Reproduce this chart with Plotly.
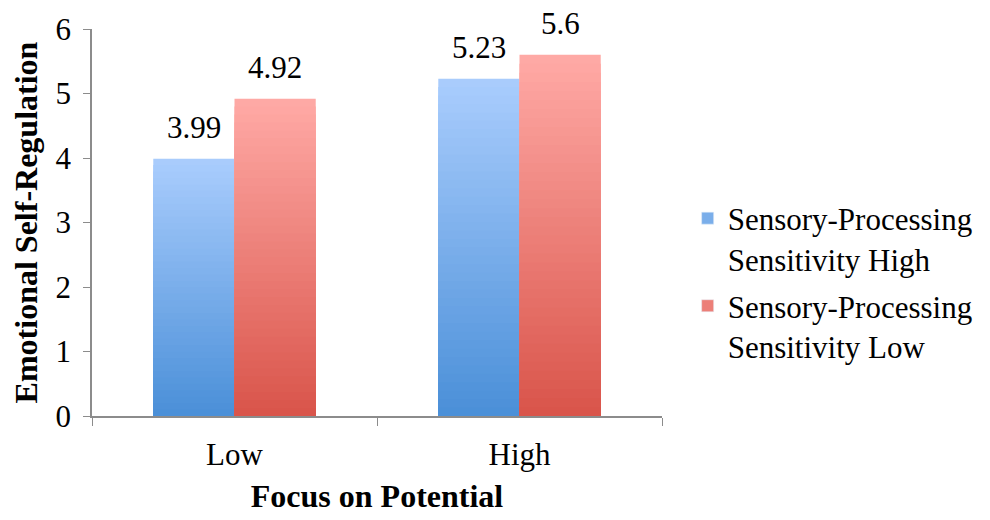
import plotly.graph_objects as go

categories = ["Low", "High"]
series_names = ["Sensory-Processing<br>Sensitivity High", "Sensory-Processing<br>Sensitivity Low"]
sps_high = [3.99, 5.23]
sps_low = [4.92, 5.6]
value_labels_high = ["3.99", "5.23"]
value_labels_low = ["4.92", "5.6"]
y_ticks = [0, 1, 2, 3, 4, 5, 6]

# gradient end colours (bottom, top) per series
grad = [((74, 143, 216), (170, 205, 253)), ((217, 84, 74), (255, 170, 166))]

FONT = "Liberation Serif, Times New Roman, Times, DejaVu Serif, serif"
FS = 31
N = 40
BARGAP = 0.43

fig = go.Figure()

def mix(c0, c1, t):
    return "rgb(%d,%d,%d)" % tuple(round(a + (b - a) * t) for a, b in zip(c0, c1))

plot_w = 990 - 92 - 326
cat_w = plot_w / len(categories)
bar_w = cat_w * (1 - BARGAP) / 2

all_series = [(sps_high, value_labels_high, series_names[0]),
              (sps_low, value_labels_low, series_names[1])]

for si, (vals, labels, name) in enumerate(all_series):
    bottom, top = grad[si]
    fig.add_trace(go.Bar(
        x=categories, y=vals, name=name, offsetgroup=str(si),
        marker=dict(color=mix(bottom, top, 0.985), line=dict(width=0)),
        legendgroup=str(si), showlegend=False,
    ))
    for k in range(1, N):
        frac = (N - k) / N
        t = (N - k - 0.5) / N
        fig.add_trace(go.Bar(
            x=categories, y=[v * frac for v in vals], offsetgroup=str(si),
            marker=dict(color=mix(bottom, top, t), line=dict(width=0)),
            showlegend=False, hoverinfo="skip", legendgroup=str(si),
        ))
    fig.add_trace(go.Bar(
        x=[None], y=[None], name=name, legendgroup=str(si),
        marker=dict(color=mix(bottom, top, 0.5)), showlegend=True,
    ))
    shift = (si - 0.5) * bar_w
    for c, v, lab in zip(categories, vals, labels):
        fig.add_annotation(x=c, y=v, xref="x", yref="y", text=lab, showarrow=False,
                           yanchor="bottom", xshift=shift, yshift=12,
                           font=dict(family=FONT, size=FS, color="black"))

fig.update_layout(
    width=990, height=520,
    margin=dict(l=92, r=326, t=28, b=102),
    paper_bgcolor="white", plot_bgcolor="white",
    barmode="group", bargap=BARGAP, bargroupgap=0,
    font=dict(family=FONT, size=FS, color="black"),
    legend=dict(x=1.045, xanchor="left", y=0.345, yanchor="middle",
                font=dict(family=FONT, size=31), tracegroupgap=4,
                itemwidth=30, valign="top"),
    xaxis=dict(
        showline=True, linecolor="#8c8c8c", linewidth=1.5,
        ticks="outside", tickson="boundaries", ticklen=8, tickcolor="#8c8c8c",
        tickfont=dict(family=FONT, size=FS), ticklabelstandoff=10,
        title=dict(text="<b>Focus on Potential</b>", font=dict(family=FONT, size=32), standoff=14),
    ),
    yaxis=dict(
        range=[0, 6], tickvals=y_ticks, showgrid=False, zeroline=False,
        showline=True, linecolor="#8c8c8c", linewidth=1.5,
        ticks="outside", ticklen=7, tickcolor="#8c8c8c",
        tickfont=dict(family=FONT, size=FS), ticklabelstandoff=6,
        title=dict(text="<b>Emotional Self-Regulation</b>", font=dict(family=FONT, size=32), standoff=8),
    ),
)

fig.write_html("out.html")
